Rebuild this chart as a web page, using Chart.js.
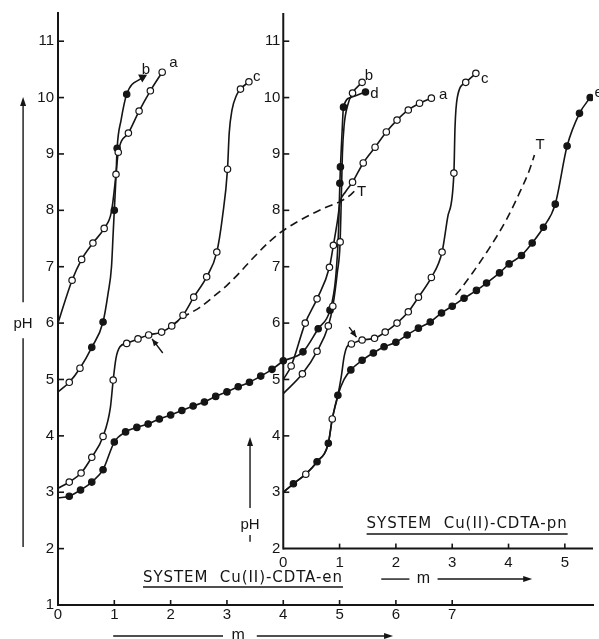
<!DOCTYPE html>
<html><head><meta charset="utf-8">
<script src="https://cdn.jsdelivr.net/npm/chart.js@4/dist/chart.umd.min.js"></script>
<style>html,body{margin:0;padding:0;background:#fff;}canvas{display:block;}</style>
</head><body>
<canvas id="c" width="599" height="639"></canvas>
<script>
// ---------- tick labels ----------
const enTicks = [0, 1, 2, 3, 4, 5, 6, 7];          // m, system Cu(II)-CDTA-en
const pHTicks = [1, 2, 3, 4, 5, 6, 7, 8, 9, 10, 11];
const pnTicks = [0, 1, 2, 3, 4, 5];                // m, system Cu(II)-CDTA-pn
const pnPHTicks = [2, 3, 4, 5, 6, 7, 8, 9, 10, 11];

// ---------- data: [m, pH, point kind] kind 0 = curve only, 1 = open circle, 2 = filled circle, 3 = arrow end ----------
// System Cu(II)-CDTA-en
const enA = [[0,6.0,0],[0.25,6.76,1],[0.42,7.13,1],[0.62,7.42,1],[0.82,7.68,1],[0.95,7.98,0],[1.03,8.64,1],[1.07,9.03,1],[1.25,9.37,1],[1.44,9.76,1],[1.64,10.12,1],[1.85,10.45,1]];
const enB = [[0,4.78,0],[0.2,4.95,1],[0.39,5.2,1],[0.6,5.57,2],[0.8,6.02,2],[0.89,6.53,0],[0.95,7.0,0],[0.98,7.6,0],[1.0,8.0,2],[1.03,8.6,0],[1.05,9.1,2],[1.12,9.6,0],[1.22,10.06,2],[1.5,10.36,3]];
const enC = [[0,3.07,0],[0.2,3.18,1],[0.41,3.34,1],[0.6,3.62,1],[0.8,3.99,1],[0.93,4.5,0],[0.98,4.99,1],[1.03,5.38,0],[1.1,5.58,0],[1.22,5.64,1],[1.42,5.72,1],[1.61,5.79,1],[1.84,5.84,1],[2.02,5.95,1],[2.22,6.14,1],[2.41,6.46,1],[2.64,6.82,1],[2.82,7.26,1],[2.92,7.88,0],[3.01,8.73,1],[3.04,9.37,0],[3.09,9.78,0],[3.17,10.04,0],[3.24,10.15,1],[3.39,10.28,1]];
const enE = [[0,2.9,0],[0.2,2.93,2],[0.4,3.04,2],[0.6,3.18,2],[0.8,3.4,2],[1.0,3.89,2],[1.2,4.07,2],[1.4,4.15,2],[1.6,4.21,2],[1.8,4.3,2],[2.0,4.37,2],[2.2,4.45,2],[2.4,4.53,2],[2.6,4.6,2],[2.8,4.7,2],[3.0,4.78,2],[3.2,4.87,2],[3.4,4.95,2],[3.6,5.06,2],[3.8,5.18,2],[4.0,5.33,2]];
const enT = [[2.02,5.95],[2.2,6.09],[2.52,6.28],[2.75,6.46],[3.0,6.67],[3.23,6.9],[3.46,7.15],[3.76,7.45],[3.94,7.6],[4.22,7.78],[4.5,7.93],[4.75,8.05],[5.0,8.15],[5.2,8.28],[5.32,8.4]];
// System Cu(II)-CDTA-pn
const pnA = [[0,5.0,0],[0.14,5.24,1],[0.39,6.0,1],[0.6,6.43,1],[0.82,6.99,1],[0.89,7.38,1],[0.96,7.8,0],[1.01,8.15,0],[1.1,8.32,0],[1.23,8.5,1],[1.42,8.84,1],[1.63,9.12,1],[1.83,9.39,1],[2.02,9.6,1],[2.22,9.78,1],[2.42,9.9,1],[2.63,9.99,1]];
const pnB = [[0,4.75,0],[0.34,5.1,1],[0.6,5.5,1],[0.8,5.95,1],[0.88,6.3,1],[0.96,6.9,0],[1.01,7.44,1],[1.03,8.2,0],[1.05,9.0,0],[1.08,9.5,0],[1.14,9.85,0],[1.23,10.08,1],[1.4,10.27,1]];
const pnD = [[0,5.33,0],[0.35,5.49,2],[0.62,5.9,2],[0.83,6.23,2],[0.93,6.8,0],[0.98,7.6,0],[1.005,8.48,2],[1.015,8.77,2],[1.04,9.3,0],[1.07,9.83,2],[1.2,10.0,0],[1.46,10.1,2]];
const pnC = [[0,3.0,0],[0.18,3.15,0],[0.4,3.32,1],[0.6,3.54,0],[0.8,3.87,0],[0.87,4.3,1],[0.97,4.72,0],[1.03,5.05,0],[1.08,5.4,0],[1.13,5.58,0],[1.21,5.63,1],[1.4,5.7,1],[1.62,5.73,1],[1.81,5.84,1],[2.02,6.0,1],[2.22,6.2,1],[2.4,6.46,1],[2.63,6.81,1],[2.82,7.26,1],[2.92,7.88,0],[3.03,8.66,1],[3.05,9.48,0],[3.09,10.0,0],[3.24,10.27,1],[3.42,10.43,1]];
const pnE = [[0,3.0,0],[0.18,3.15,2],[0.4,3.32,0],[0.6,3.54,2],[0.8,3.87,2],[0.87,4.3,0],[0.97,4.72,2],[1.08,5.0,0],[1.2,5.17,2],[1.4,5.34,2],[1.6,5.47,2],[1.79,5.58,2],[2.0,5.66,2],[2.2,5.79,2],[2.4,5.91,2],[2.61,6.02,2],[2.81,6.18,2],[3.0,6.3,2],[3.21,6.44,2],[3.43,6.58,2],[3.61,6.71,2],[3.84,6.89,2],[4.01,7.05,2],[4.23,7.2,2],[4.42,7.42,2],[4.62,7.7,2],[4.83,8.11,2],[5.04,9.14,2],[5.26,9.72,2],[5.45,10.0,2]];
const pnT = [[3.06,6.5],[3.13,6.58],[3.36,6.89],[3.66,7.33],[3.96,7.83],[4.19,8.3],[4.37,8.71],[4.46,8.98]];

// ---------- annotation text (anchored in data units) ----------
const curveLabels = [
  {t:'b', ax:'x', x:1.56, y:10.5}, {t:'a', ax:'x', x:2.05, y:10.62}, {t:'c', ax:'x', x:3.53, y:10.36}, {t:'T', ax:'x', x:5.39, y:8.32},
  {t:'b', ax:'x2', x:1.52, y:10.38}, {t:'d', ax:'x2', x:1.62, y:10.06}, {t:'a', ax:'x2', x:2.84, y:10.04},
  {t:'c', ax:'x2', x:3.58, y:10.34}, {t:'T', ax:'x2', x:4.56, y:9.17}, {t:'e', ax:'x2', x:5.6, y:10.08}
];
const titles = [
  {t:'SYSTEM  Cu(II)-CDTA-en', ax:'x', x0:1.51, x1:5.06, y:1.41, u:1.32},
  {t:'SYSTEM  Cu(II)-CDTA-pn', ax:'x2', x0:1.48, x1:5.05, y:2.365, u:2.26}
];

const ink = '#151515';
const pts = a => a.map(p => ({x: p[0], y: p[1], k: p[2] || 0}));
const kind = c => (c.raw && c.raw.k) || 0;
function curve(arr, xAxis, dashed) {
  return {
    data: pts(arr), xAxisID: xAxis, yAxisID: 'y', showLine: true,
    borderColor: ink, borderWidth: 1.6, borderDash: dashed ? [8, 5] : [],
    cubicInterpolationMode: 'monotone', fill: false,
    pointRadius: c => dashed ? 0 : (kind(c) === 3 ? 4 : (kind(c) ? 3.2 : 0)),
    pointStyle: c => kind(c) === 3 ? 'triangle' : 'circle',
    pointRotation: c => kind(c) === 3 ? 62 : 0,
    pointBackgroundColor: c => kind(c) === 1 ? '#fff' : ink,
    pointBorderColor: ink, pointBorderWidth: 1.2
  };
}

function seg(ctx, a, b) { ctx.beginPath(); ctx.moveTo(a[0], a[1]); ctx.lineTo(b[0], b[1]); ctx.stroke(); }
function head(ctx, from, to, len, half) {
  const g = Math.atan2(to[1] - from[1], to[0] - from[0]);
  const c = Math.cos(g), s = Math.sin(g);
  ctx.beginPath(); ctx.moveTo(to[0], to[1]);
  ctx.lineTo(to[0] - len * c + half * s, to[1] - len * s - half * c);
  ctx.lineTo(to[0] - len * c - half * s, to[1] - len * s + half * c);
  ctx.closePath(); ctx.fill();
}

const decor = {
  id: 'decor',
  afterDraw(chart) {
    const ctx = chart.ctx, A = chart.chartArea;
    const X = chart.scales.x, X2 = chart.scales.x2, Y = chart.scales.y;
    const P = (ax, x, y) => [chart.scales[ax].getPixelForValue(x), Y.getPixelForValue(y)];
    ctx.save();
    ctx.strokeStyle = ink; ctx.fillStyle = ink; ctx.lineCap = 'butt';
    // pn axes (start at their own origin)
    const xo = X2.getPixelForValue(0), yo = Y.getPixelForValue(2);
    ctx.lineWidth = 2;
    seg(ctx, [xo, yo], [A.right, yo]);
    seg(ctx, [xo, yo + 1], [xo, A.top]);
    // inward tick marks
    ctx.lineWidth = 1.6;
    enTicks.forEach(v => { if (v) { const p = X.getPixelForValue(v); seg(ctx, [p, A.bottom], [p, A.bottom - 5]); } });
    pHTicks.forEach(v => { if (v > 1) { const p = Y.getPixelForValue(v); seg(ctx, [A.left, p], [A.left + 6, p]); } });
    pnTicks.forEach(v => { if (v) { const p = X2.getPixelForValue(v); seg(ctx, [p, yo], [p, yo - 5]); } });
    pnPHTicks.forEach(v => { if (v > 2) { const p = Y.getPixelForValue(v); seg(ctx, [xo, p], [xo + 6, p]); } });
    // curve letters
    ctx.font = '15px "Liberation Sans"'; ctx.textAlign = 'center'; ctx.textBaseline = 'middle';
    curveLabels.forEach(l => { const p = P(l.ax, l.x, l.y); ctx.fillText(l.t, p[0], p[1]); });
    // system titles, underlined
    ctx.textAlign = 'left'; ctx.textBaseline = 'alphabetic';
    titles.forEach(t => {
      const a = P(t.ax, t.x0, t.y), b = P(t.ax, t.x1, t.y);
      ctx.font = '15px "DejaVu Sans"';
      ctx.letterSpacing = '0px';
      const w0 = ctx.measureText(t.t).width;
      ctx.letterSpacing = ((b[0] - a[0] - w0) / t.t.length).toFixed(2) + 'px';
      ctx.fillText(t.t, a[0], a[1]);
      ctx.letterSpacing = '0px';
      ctx.lineWidth = 1.5;
      const u = Y.getPixelForValue(t.u);
      seg(ctx, [a[0], u], [b[0], u]);
    });
    // "m" arrows under each x axis
    ctx.lineWidth = 1.4; ctx.font = '16px "Liberation Sans"'; ctx.textAlign = 'center';
    [{ax:'x', a:0.98, b:2.93, m:3.2, c:3.53, d:5.95, y:0.45, base:0.38},
     {ax:'x2', a:1.74, b:2.24, m:2.49, c:2.74, d:4.42, y:1.46, base:1.39}].forEach(r => {
      seg(ctx, P(r.ax, r.a, r.y), P(r.ax, r.b, r.y));
      const e0 = P(r.ax, r.c, r.y), e1 = P(r.ax, r.d, r.y);
      seg(ctx, e0, [e1[0] - 6, e1[1]]); head(ctx, e0, e1, 9, 3);
      const mp = P(r.ax, r.m, r.base); ctx.fillText('m', mp[0], mp[1]);
    });
    // pH arrows
    ctx.font = '15px "Liberation Sans"';
    const l1 = P('x', -0.62, 10.01), l2 = P('x', -0.62, 6.37), l3 = P('x', -0.62, 5.73), l4 = P('x', -0.62, 2.03);
    seg(ctx, [l2[0], l2[1]], [l1[0], l1[1] + 6]); head(ctx, l2, l1, 9, 3); seg(ctx, l3, l4);
    const lt = P('x', -0.62, 5.91); ctx.fillText('pH', lt[0], lt[1]);
    const r1 = P('x', 3.41, 3.98), r2 = P('x', 3.41, 2.72);
    seg(ctx, r2, [r1[0], r1[1] + 6]); head(ctx, r2, r1, 9, 3);
    const rt = P('x', 3.41, 2.35); ctx.fillText('pH', rt[0], rt[1]);
    seg(ctx, P('x', 3.41, 2.24), P('x', 3.41, 2.12));
    // small pointer arrows at the plateaus
    [{ax:'x', t:[1.86,5.47], h:[1.67,5.72]}, {ax:'x2', t:[1.17,5.93], h:[1.3,5.75]}].forEach(q => {
      const t = P(q.ax, q.t[0], q.t[1]), h = P(q.ax, q.h[0], q.h[1]);
      seg(ctx, t, h); head(ctx, t, h, 7, 3);
    });
    ctx.restore();
  }
};

const tickFont = {family: '"Liberation Sans"', size: 15};
new Chart(document.getElementById('c'), {
  type: 'scatter',
  data: {datasets: [
    curve(enA, 'x'), curve(enB, 'x'), curve(enC, 'x'), curve(enE, 'x'), curve(enT, 'x', true),
    curve(pnA, 'x2'), curve(pnB, 'x2'), curve(pnD, 'x2'), curve(pnC, 'x2'), curve(pnE, 'x2'), curve(pnT, 'x2', true)
  ]},
  options: {
    responsive: false, animation: false, events: [],
    layout: {padding: {left: 0, right: 6, top: 13, bottom: 0}},
    plugins: {legend: {display: false}, tooltip: {enabled: false}},
    scales: {
      x: {type: 'linear', position: 'bottom', min: 0, max: 9.5,
          afterBuildTicks: s => { s.ticks = enTicks.map(v => ({value: v})); },
          afterFit: s => { s.height = 34; },
          grid: {display: false, drawTicks: false}, border: {display: true, color: ink, width: 2},
          ticks: {color: ink, font: tickFont, padding: 1, maxRotation: 0, autoSkip: false}},
      y: {type: 'linear', position: 'left', min: 1, max: 11.5,
          afterBuildTicks: s => { s.ticks = pHTicks.map(v => ({value: v})); },
          afterFit: s => { s.width = 58; },
          grid: {display: false, drawTicks: false}, border: {display: true, color: ink, width: 2},
          ticks: {color: ink, font: tickFont, padding: 4, autoSkip: false}},
      x2: {type: 'linear', position: {y: 2}, min: -4, max: 5.5,
          afterBuildTicks: s => { s.ticks = pnTicks.map(v => ({value: v})); },
          grid: {display: false, drawTicks: false}, border: {display: false},
          ticks: {color: ink, font: tickFont, padding: 5, maxRotation: 0, autoSkip: false}},
      y2: {type: 'linear', position: {x: 3.95}, min: 1, max: 11.5,
          afterBuildTicks: s => { s.ticks = pnPHTicks.map(v => ({value: v})); },
          grid: {display: false, drawTicks: false}, border: {display: false},
          ticks: {color: ink, font: tickFont, autoSkip: false}}
    }
  },
  plugins: [decor]
});
</script>
</body></html>
